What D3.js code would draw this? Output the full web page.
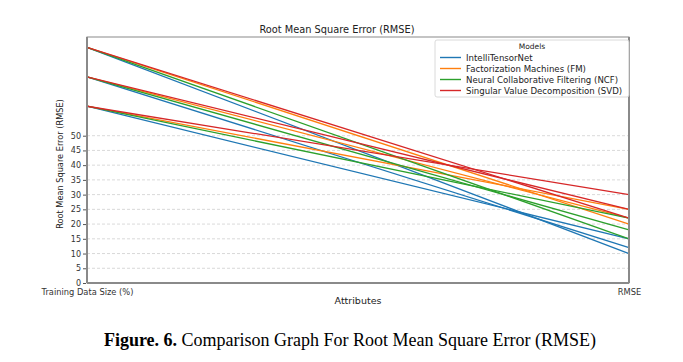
<!DOCTYPE html>
<html><head><meta charset="utf-8">
<script src="https://cdn.jsdelivr.net/npm/d3@7"></script>
<style>
html,body{margin:0;padding:0;background:#fff;}
svg{display:block;}
</style></head>
<body>
<script>
// ---- data ----
const attributes = ["Training Data Size (%)", "RMSE"];
const models = ["IntelliTensorNet", "Factorization Machines (FM)", "Neural Collaborative Filtering (NCF)", "Singular Value Decomposition (SVD)"];
const colors = ["#1f77b4", "#ff7f0e", "#2ca02c", "#d62728"];
const trainingSizes = [60, 70, 80];
const rmseIntelliTensorNet = [15, 12, 10];
const rmseFM = [25, 22, 20];
const rmseNCF = [22, 18, 15];
const rmseSVD = [30, 25, 22];
const yTicks = [0, 5, 10, 15, 20, 25, 30, 35, 40, 45, 50];
const rmseByModel = [rmseIntelliTensorNet, rmseFM, rmseNCF, rmseSVD];

const W = 683, H = 362;
const pLeft = 87, pRight = 629, pTop = 37, pBottom = 283;

const svg = d3.select("body").append("svg").attr("width", W).attr("height", H)
  .style("font-family", "'DejaVu Sans', sans-serif");

const x = d3.scalePoint().domain(attributes).range([pLeft, pRight]);
const y = d3.scaleLinear().domain([0, 83.5]).range([pBottom, pTop]);

// grid
svg.append("g").selectAll("line").data(yTicks.filter(t => t > 0)).join("line")
  .attr("x1", pLeft).attr("x2", pRight)
  .attr("y1", d => y(d)).attr("y2", d => y(d))
  .attr("stroke", "#cfcfcf").attr("stroke-width", 0.8).attr("stroke-dasharray", "3,2");

// lines
const rows = [];
models.forEach((m, i) => {
  trainingSizes.forEach((t, j) => {
    rows.push({model: m, color: colors[i], vals: [t, rmseByModel[i][j]]});
  });
});
const line = d3.line().x((d, k) => x(attributes[k])).y(d => y(d));
svg.append("g").selectAll("path").data(rows).join("path")
  .attr("d", d => line(d.vals))
  .attr("fill", "none").attr("stroke", d => d.color).attr("stroke-width", 1.3);

// frame
svg.append("rect").attr("x", pLeft).attr("y", pTop).attr("width", pRight - pLeft).attr("height", pBottom - pTop)
  .attr("fill", "none").attr("stroke", "#8a8a8a").attr("stroke-width", 1);
// vertical attribute axes
svg.append("g").selectAll("line").data(attributes).join("line")
  .attr("x1", d => x(d)).attr("x2", d => x(d)).attr("y1", pTop).attr("y2", pBottom)
  .attr("stroke", "#8a8a8a").attr("stroke-width", 2);
svg.append("line").attr("x1", pLeft).attr("x2", pRight).attr("y1", pBottom).attr("y2", pBottom)
  .attr("stroke", "#8a8a8a").attr("stroke-width", 2);

// y axis ticks
const yAxis = svg.append("g").attr("transform", `translate(${pLeft - 1},0)`)
  .call(d3.axisLeft(y).tickValues(yTicks).tickSize(3).tickPadding(2));
yAxis.select(".domain").remove();
yAxis.selectAll("line").attr("stroke", "#555");
yAxis.selectAll("text").attr("font-size", 8).attr("fill", "#333").attr("font-family", "'DejaVu Sans', sans-serif");

// x axis ticks
const xAxis = svg.append("g").attr("transform", `translate(0,${pBottom + 1})`)
  .call(d3.axisBottom(x).tickSize(0).tickPadding(5.5));
xAxis.select(".domain").remove();
xAxis.selectAll("text").attr("font-size", 8.3).attr("fill", "#333").attr("font-family", "'DejaVu Sans', sans-serif");

// titles
svg.append("text").attr("x", 337).attr("y", 33).attr("text-anchor", "middle")
  .attr("font-size", 9.8).attr("fill", "#222").text("Root Mean Square Error (RMSE)");
svg.append("text").attr("x", 358).attr("y", 304).attr("text-anchor", "middle")
  .attr("font-size", 9.5).attr("fill", "#222").text("Attributes");
svg.append("text").attr("transform", `translate(63,164) rotate(-90)`).attr("text-anchor", "middle")
  .attr("font-size", 8.2).attr("fill", "#222").text("Root Mean Square Error (RMSE)");

// legend
const lg = svg.append("g").attr("transform", "translate(435,40)");
lg.append("rect").attr("width", 194).attr("height", 57).attr("rx", 2)
  .attr("fill", "#fff").attr("fill-opacity", 0.85).attr("stroke", "#d0d0d0").attr("stroke-width", 0.8);
lg.append("text").attr("x", 97).attr("y", 9).attr("text-anchor", "middle").attr("font-size", 7.5).attr("fill", "#222").text("Models");
models.forEach((m, i) => {
  const yy = 17.5 + i * 11;
  lg.append("line").attr("x1", 5).attr("x2", 26).attr("y1", yy).attr("y2", yy)
    .attr("stroke", colors[i]).attr("stroke-width", 1.4);
  lg.append("text").attr("x", 31).attr("y", yy + 3).attr("font-size", 8.6).attr("fill", "#222").text(m);
});

// caption
const cap = svg.append("text").attr("x", 350).attr("y", 346).attr("text-anchor", "middle")
  .attr("font-family", "'Liberation Serif', 'Times New Roman', serif").attr("font-size", 18).attr("fill", "#000");
cap.append("tspan").attr("font-weight", "bold").text("Figure. 6.");
cap.append("tspan").text(" Comparison Graph For Root Mean Square Error (RMSE)");
</script>
</body></html>
